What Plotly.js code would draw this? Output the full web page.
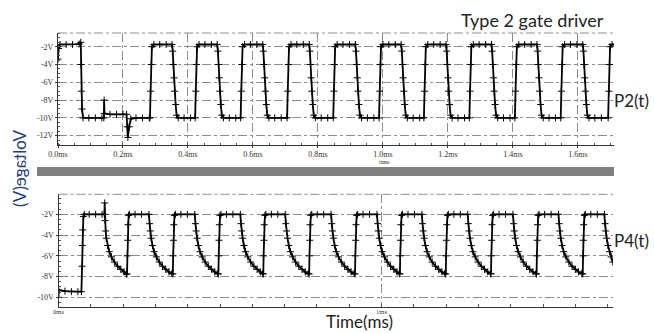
<!DOCTYPE html>
<html>
<head>
<meta charset="utf-8">
<script src="https://cdn.plot.ly/plotly-3.0.1.min.js"></script>
<style>html,body{margin:0;padding:0;background:#fff;}#chart{width:654px;height:333px;}</style>
</head>
<body>
<div id="chart"></div>
<script>
// ---- P2(t) waveform (time in ms, voltage in V) ----
const p2Time = [
 0,0.002,0.006,0.025,0.045,0.065,0.070,0.071,0.072,0.074,0.077,0.095,0.115,0.135,0.141,0.142,0.143,0.160,0.180,0.200,0.211,0.213,0.215,0.219,0.224,0.240,0.260,0.281,
 0.283,0.285,0.287,0.289,0.295,0.313,0.333,0.351,0.353,0.355,0.357,0.359,0.362,0.365,0.370,0.388,0.408,
 0.422,0.424,0.426,0.428,0.434,0.452,0.472,0.490,0.492,0.494,0.496,0.498,0.501,0.504,0.509,0.527,0.547,
 0.562,0.564,0.566,0.568,0.574,0.592,0.612,0.630,0.632,0.634,0.636,0.638,0.641,0.644,0.649,0.667,0.687,
 0.705,0.707,0.709,0.711,0.717,0.735,0.755,0.773,0.775,0.777,0.779,0.781,0.784,0.787,0.792,0.810,0.830,
 0.847,0.849,0.851,0.853,0.859,0.877,0.897,0.915,0.917,0.919,0.921,0.923,0.926,0.929,0.934,0.952,0.972,
 0.988,0.990,0.992,0.994,1.000,1.018,1.038,1.056,1.058,1.060,1.062,1.064,1.067,1.070,1.075,1.093,1.113,
 1.126,1.128,1.130,1.132,1.138,1.156,1.176,1.194,1.196,1.198,1.200,1.202,1.205,1.208,1.213,1.231,1.251,
 1.266,1.268,1.270,1.272,1.278,1.296,1.316,1.334,1.336,1.338,1.340,1.342,1.345,1.348,1.353,1.371,1.391,
 1.406,1.408,1.410,1.412,1.418,1.436,1.456,1.474,1.476,1.478,1.480,1.482,1.485,1.488,1.493,1.511,1.531,
 1.547,1.549,1.551,1.553,1.559,1.577,1.597,1.615,1.617,1.619,1.621,1.623,1.626,1.629,1.634,1.652,1.672,
 1.693,1.695,1.697,1.699,1.705,1.714
];
const p2Volt = [
 -3.4,-2.2,-1.75,-1.75,-1.75,-1.7,-1.5,-4,-7,-9,-10,-10,-10,-10,-10,-8,-9.5,-9.6,-9.6,-9.6,-9.6,-11,-12.2,-11,-10.1,-10,-10,-10,
 -10,-7,-4,-2,-1.75,-1.75,-1.75,-1.75,-2.5,-4,-5.5,-7,-8.5,-9.7,-10,-10,-10,
 -10,-7,-4,-2,-1.75,-1.75,-1.75,-1.75,-2.5,-4,-5.5,-7,-8.5,-9.7,-10,-10,-10,
 -10,-7,-4,-2,-1.75,-1.75,-1.75,-1.75,-2.5,-4,-5.5,-7,-8.5,-9.7,-10,-10,-10,
 -10,-7,-4,-2,-1.75,-1.75,-1.75,-1.75,-2.5,-4,-5.5,-7,-8.5,-9.7,-10,-10,-10,
 -10,-7,-4,-2,-1.75,-1.75,-1.75,-1.75,-2.5,-4,-5.5,-7,-8.5,-9.7,-10,-10,-10,
 -10,-7,-4,-2,-1.75,-1.75,-1.75,-1.75,-2.5,-4,-5.5,-7,-8.5,-9.7,-10,-10,-10,
 -10,-7,-4,-2,-1.75,-1.75,-1.75,-1.75,-2.5,-4,-5.5,-7,-8.5,-9.7,-10,-10,-10,
 -10,-7,-4,-2,-1.75,-1.75,-1.75,-1.75,-2.5,-4,-5.5,-7,-8.5,-9.7,-10,-10,-10,
 -10,-7,-4,-2,-1.75,-1.75,-1.75,-1.75,-2.5,-4,-5.5,-7,-8.5,-9.7,-10,-10,-10,
 -10,-7,-4,-2,-1.75,-1.75,-1.75,-1.75,-2.5,-4,-5.5,-7,-8.5,-9.7,-10,-10,-10,
 -10,-7,-4,-2,-1.75,-1.75
];

// ---- P4(t) waveform ----
const p4Time = [
 0,0.001,0.020,0.040,0.060,0.071,0.073,0.074,0.075,0.077,0.080,0.095,0.115,0.135,0.142,0.143,0.144,0.146,0.148,0.152,0.157,0.164,0.173,0.183,0.193,0.203,0.210,
 0.212,0.213,0.214,0.215,0.217,0.220,0.237,0.257,0.280,0.282,0.284,0.287,0.291,0.296,0.303,0.312,0.322,0.332,0.342,0.351,
 0.354,0.355,0.356,0.357,0.359,0.362,0.379,0.399,0.422,0.424,0.426,0.429,0.433,0.438,0.445,0.454,0.464,0.474,0.484,0.493,
 0.495,0.496,0.497,0.498,0.500,0.503,0.520,0.540,0.563,0.565,0.567,0.570,0.574,0.579,0.586,0.595,0.605,0.615,0.625,0.632,
 0.634,0.635,0.636,0.637,0.639,0.642,0.659,0.679,0.702,0.704,0.706,0.709,0.713,0.718,0.725,0.734,0.744,0.754,0.764,0.773,
 0.776,0.777,0.778,0.779,0.781,0.784,0.801,0.821,0.844,0.846,0.848,0.851,0.855,0.860,0.867,0.876,0.886,0.896,0.906,0.915,
 0.918,0.919,0.920,0.921,0.923,0.926,0.943,0.963,0.986,0.988,0.990,0.993,0.997,1.002,1.009,1.018,1.028,1.038,1.048,1.055,
 1.057,1.058,1.059,1.060,1.062,1.065,1.082,1.102,1.125,1.127,1.129,1.132,1.136,1.141,1.148,1.157,1.167,1.177,1.187,1.196,
 1.199,1.200,1.201,1.202,1.204,1.207,1.224,1.244,1.267,1.269,1.271,1.274,1.278,1.283,1.290,1.299,1.309,1.319,1.329,1.337,
 1.339,1.340,1.341,1.342,1.344,1.347,1.364,1.384,1.407,1.409,1.411,1.414,1.418,1.423,1.430,1.439,1.449,1.459,1.469,1.478,
 1.480,1.481,1.482,1.483,1.485,1.488,1.505,1.525,1.548,1.550,1.552,1.555,1.559,1.564,1.571,1.580,1.590,1.600,1.610,1.620,
 1.623,1.624,1.625,1.626,1.628,1.631,1.648,1.668,1.690,1.692,1.694,1.697,1.701,1.706,1.711,1.716
];
const p4Volt = [
 -10,-9.3,-9.4,-9.45,-9.45,-9.45,-7,-5,-3.5,-2.2,-2,-2,-2,-2,-2,-0.9,-2.6,-3.6,-4.3,-5.0,-5.6,-6.1,-6.6,-7.0,-7.3,-7.55,-7.75,
 -7.75,-6.0,-4.5,-3.0,-2.1,-2,-2,-2,-2,-2.9,-3.6,-4.3,-5.0,-5.6,-6.1,-6.6,-7.0,-7.3,-7.55,-7.7,
 -7.75,-6.0,-4.5,-3.0,-2.1,-2,-2,-2,-2,-2.9,-3.6,-4.3,-5.0,-5.6,-6.1,-6.6,-7.0,-7.3,-7.55,-7.7,
 -7.75,-6.0,-4.5,-3.0,-2.1,-2,-2,-2,-2,-2.9,-3.6,-4.3,-5.0,-5.6,-6.1,-6.6,-7.0,-7.3,-7.55,-7.7,
 -7.75,-6.0,-4.5,-3.0,-2.1,-2,-2,-2,-2,-2.9,-3.6,-4.3,-5.0,-5.6,-6.1,-6.6,-7.0,-7.3,-7.55,-7.7,
 -7.75,-6.0,-4.5,-3.0,-2.1,-2,-2,-2,-2,-2.9,-3.6,-4.3,-5.0,-5.6,-6.1,-6.6,-7.0,-7.3,-7.55,-7.7,
 -7.75,-6.0,-4.5,-3.0,-2.1,-2,-2,-2,-2,-2.9,-3.6,-4.3,-5.0,-5.6,-6.1,-6.6,-7.0,-7.3,-7.55,-7.7,
 -7.75,-6.0,-4.5,-3.0,-2.1,-2,-2,-2,-2,-2.9,-3.6,-4.3,-5.0,-5.6,-6.1,-6.6,-7.0,-7.3,-7.55,-7.7,
 -7.75,-6.0,-4.5,-3.0,-2.1,-2,-2,-2,-2,-2.9,-3.6,-4.3,-5.0,-5.6,-6.1,-6.6,-7.0,-7.3,-7.55,-7.7,
 -7.75,-6.0,-4.5,-3.0,-2.1,-2,-2,-2,-2,-2.9,-3.6,-4.3,-5.0,-5.6,-6.1,-6.6,-7.0,-7.3,-7.55,-7.7,
 -7.75,-6.0,-4.5,-3.0,-2.1,-2,-2,-2,-2,-2.9,-3.6,-4.3,-5.0,-5.6,-6.1,-6.6,-7.0,-7.3,-7.55,-7.7,
 -7.75,-6.0,-4.5,-3.0,-2.1,-2,-2,-2,-2,-2.9,-3.6,-4.3,-5.0,-5.6,-6.1,-6.6
];

// ---- tick labels ----
const topYTicks = [-2,-4,-6,-8,-10,-12];
const topYLabels = ['-2V','-4V','-6V','-8V','-10V','-12V'];
const topXTicks = [0,0.2,0.4,0.6,0.8,1.0,1.2,1.4,1.6];
const topXLabels = ['0.0ms','0.2ms','0.4ms','0.6ms','0.8ms','1.0ms','1.2ms','1.4ms','1.6ms'];
const botYTicks = [-2,-4,-6,-8,-10];
const botYLabels = ['-2V','-4V','-6V','-8V','-10V'];
const botXTicks = [0,1];
const botXLabels = ['0ms','1ms'];

const W = 654, H = 333;
const px = v => v / W;
const py = v => 1 - v / H;

const tickFont = {family: 'Liberation Serif, DejaVu Serif, serif', size: 8, color: '#333'};
const smallTickFont = {family: 'Liberation Serif, DejaVu Serif, serif', size: 6.5, color: '#333'};
const gridStyle = {showgrid: true, gridcolor: '#8c8c8c', griddash: 'dashdot', gridwidth: 1};
const mk = {symbol: 'cross-thin', size: 5, color: '#000', line: {width: 1, color: '#000'}};

const traces = [
  {x: p2Time, y: p2Volt, xaxis: 'x', yaxis: 'y', mode: 'lines+markers',
   line: {color: '#000', width: 1.8}, marker: mk, showlegend: false, cliponaxis: true},
  {x: p4Time, y: p4Volt, xaxis: 'x2', yaxis: 'y2', mode: 'lines+markers',
   line: {color: '#000', width: 1.8}, marker: mk, showlegend: false, cliponaxis: true}
];

const layout = {
  width: W, height: H,
  margin: {l: 0, r: 0, t: 0, b: 0},
  paper_bgcolor: '#fff', plot_bgcolor: '#fff',
  showlegend: false,
  xaxis: Object.assign({
    domain: [px(58), px(614)], range: [0, 1.711], anchor: 'y',
    tickvals: topXTicks, ticktext: topXLabels, tickfont: tickFont,
    ticks: 'outside', ticklen: 2, tickcolor: '#333', ticklabelstandoff: -1,
    showline: true, linecolor: '#333', linewidth: 1, zeroline: false,
    minor: {dtick: 0.05, ticks: 'inside', ticklen: 2, tickcolor: '#555', showgrid: false}
  }, gridStyle),
  yaxis: Object.assign({
    domain: [py(145), py(33)], range: [-13.05, -0.46], anchor: 'x',
    tickvals: topYTicks, ticktext: topYLabels, tickfont: tickFont,
    ticks: 'outside', ticklen: 2, tickcolor: '#333',
    showline: true, linecolor: '#333', linewidth: 1, zeroline: false,
    minor: {dtick: 0.5, ticks: 'inside', ticklen: 2, tickcolor: '#555', showgrid: false}
  }, gridStyle),
  xaxis2: {
    domain: [px(58.5), px(613)], range: [0, 1.7167], anchor: 'y2',
    tickvals: botXTicks, ticktext: botXLabels, tickfont: smallTickFont,
    ticks: 'inside', ticklen: 3, tickcolor: '#555', ticklabelstandoff: -2,
    showline: true, linecolor: '#333', linewidth: 1, zeroline: false,
    showgrid: true, gridcolor: '#8c8c8c', griddash: 'dashdot', gridwidth: 1,
    minor: {dtick: 0.1, ticks: 'inside', ticklen: 3, tickcolor: '#555', showgrid: false}
  },
  yaxis2: Object.assign({
    domain: [py(306.7), py(194.3)], range: [-10.9, -0.07], anchor: 'x2',
    tickvals: botYTicks, ticktext: botYLabels, tickfont: tickFont,
    ticks: 'outside', ticklen: 2, tickcolor: '#333',
    showline: true, linecolor: '#333', linewidth: 1, zeroline: false,
    minor: {dtick: 0.5, ticks: 'inside', ticklen: 2, tickcolor: '#555', showgrid: false}
  }, gridStyle),
  shapes: [
    {type: 'line', xref: 'x domain', yref: 'y domain', x0: 0, x1: 1, y0: 1, y1: 1,
     line: {color: '#8c8c8c', width: 1, dash: 'dashdot'}},
    {type: 'line', xref: 'x2 domain', yref: 'y2 domain', x0: 0, x1: 1, y0: 1, y1: 1,
     line: {color: '#8c8c8c', width: 1, dash: 'dashdot'}},
    {type: 'rect', xref: 'paper', yref: 'paper', x0: px(37), x1: px(614), y0: py(176), y1: py(167),
     fillcolor: '#808080', line: {width: 0}}
  ],
  annotations: [
    {text: 'Type 2 gate driver', xref: 'paper', yref: 'paper', x: px(532), y: py(20),
     xanchor: 'center', yanchor: 'middle', showarrow: false, borderpad: 0,
     font: {family: 'Lato, Open Sans, sans-serif', size: 18, color: '#222'}},
    {text: 'P2(t)', xref: 'paper', yref: 'paper', x: px(613), y: py(100),
     xanchor: 'left', yanchor: 'middle', showarrow: false, borderpad: 0,
     font: {family: 'Lato, Open Sans, sans-serif', size: 17, color: '#222'}},
    {text: 'P4(t)', xref: 'paper', yref: 'paper', x: px(613), y: py(240),
     xanchor: 'left', yanchor: 'middle', showarrow: false, borderpad: 0,
     font: {family: 'Lato, Open Sans, sans-serif', size: 17, color: '#222'}},
    {text: 'Time(ms)', xref: 'paper', yref: 'paper', x: px(359), y: 0,
     xanchor: 'center', yanchor: 'bottom', showarrow: false, borderpad: 0,
     font: {family: 'Lato, Open Sans, sans-serif', size: 17, color: '#222'}},
    {text: 'time', xref: 'paper', yref: 'paper', x: px(384), y: py(162),
     xanchor: 'center', yanchor: 'middle', showarrow: false, borderpad: 0,
     font: {family: 'Liberation Serif, serif', size: 6, color: '#333'}},
    {text: 'Voltage(V)', xref: 'paper', yref: 'paper', x: px(19), y: py(168),
     xanchor: 'center', yanchor: 'middle', showarrow: false, textangle: 90, borderpad: 0,
     font: {family: 'Lato, Open Sans, sans-serif', size: 17, color: '#23407a'}}
  ]
};

Plotly.newPlot('chart', traces, layout, {displayModeBar: false, staticPlot: true}).then(gd => {
  // the reference shows the y-axis title mirrored
  gd.querySelectorAll('.annotation').forEach(g => {
    if (g.textContent.trim() === 'Voltage(V)') {
      const bb = g.getBBox();
      const cx = bb.x + bb.width / 2;
      const prev = g.getAttribute('transform') || '';
      g.setAttribute('transform', `translate(${2 * cx},0) scale(-1,1) ${prev}`);
    }
  });
});
</script>
</body>
</html>
